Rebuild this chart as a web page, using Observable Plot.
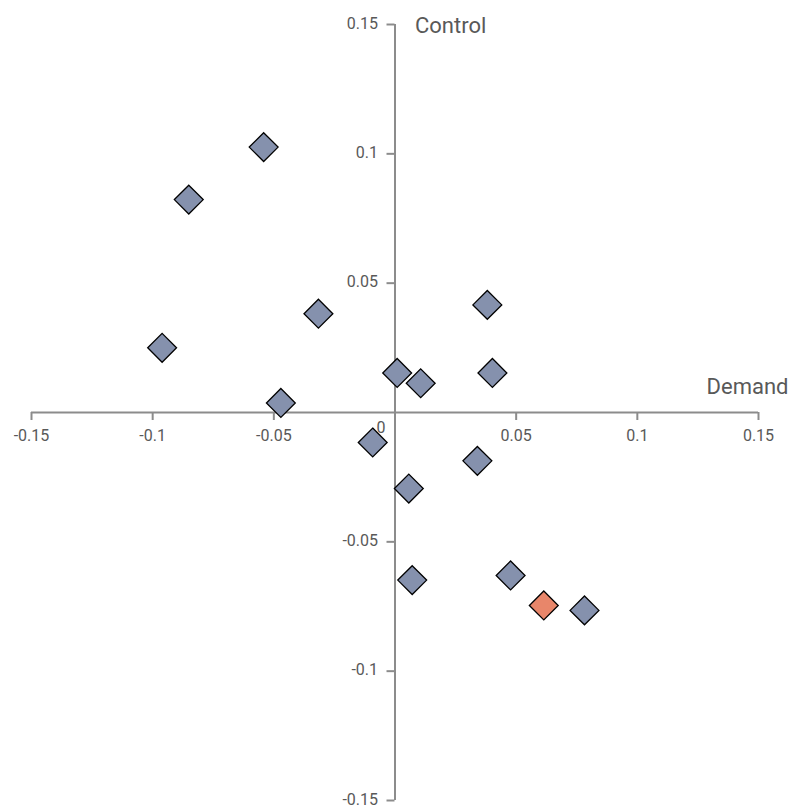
<!DOCTYPE html>
<html>
<head>
<meta charset="utf-8">
<script src="https://cdn.jsdelivr.net/npm/d3@7"></script>
<script src="https://cdn.jsdelivr.net/npm/@observablehq/plot@0.6"></script>
<style>
  html, body { margin: 0; padding: 0; background: #fff; }
  #chart svg { display: block; }
</style>
</head>
<body>
<div id="chart"></div>
<script>
// Data
const demand = [-0.0542, -0.0851, -0.0316, -0.0961, -0.0471, 0.0009, 0.0106, 0.0381, 0.0402, -0.0092, 0.0340, 0.0057, 0.0071, 0.0477, 0.0614, 0.0782];
const control = [0.1026, 0.0823, 0.0382, 0.0250, 0.0037, 0.0153, 0.0113, 0.0416, 0.0153, -0.0116, -0.0187, -0.0294, -0.0648, -0.0630, -0.0746, -0.0765];
const highlight = [false, false, false, false, false, false, false, false, false, false, false, false, false, false, true, false];

const xTicks = [-0.15, -0.1, -0.05, 0.05, 0.1, 0.15];
const xTickLabels = ["-0.15", "-0.1", "-0.05", "0.05", "0.1", "0.15"];
const yTicks = [0.15, 0.1, 0.05, -0.05, -0.1, -0.15];
const yTickLabels = ["0.15", "0.1", "0.05", "-0.05", "-0.1", "-0.15"];
const domainX = [-0.15, 0.15];
const domainY = [-0.15, 0.15];

const points = demand.map((d, i) => ({demand: d, control: control[i], hi: highlight[i]}));
const xTickData = xTicks.map((v, i) => ({v, label: xTickLabels[i]}));
const yTickData = yTicks.map((v, i) => ({v, label: yTickLabels[i]}));

const axisColor = "#8c8c8c";
const textColor = "#595959";
const font = "Roboto, 'Liberation Sans', Arial, sans-serif";

const chart = Plot.plot({
  width: 792,
  height: 805,
  marginLeft: 31,
  marginRight: 34,
  marginTop: 24,
  marginBottom: 5,
  style: {background: "#fff", fontFamily: font, overflow: "visible"},
  x: {domain: domainX, axis: null},
  y: {domain: domainY, axis: null},
  marks: [
    // axis lines
    Plot.ruleY([0], {x1: domainX[0], x2: domainX[1], stroke: axisColor, strokeWidth: 2}),
    Plot.ruleX([0], {y1: domainY[0], y2: domainY[1], stroke: axisColor, strokeWidth: 2}),
    // tick marks
    Plot.ruleX(xTickData, {x: "v", y1: 0, y2: 0, insetBottom: -8, stroke: axisColor, strokeWidth: 2}),
    Plot.ruleY(yTickData, {y: "v", x1: 0, x2: 0, insetLeft: -8, stroke: axisColor, strokeWidth: 2}),
    // tick labels
    Plot.text(xTickData, {x: "v", y: 0, dy: 23, text: "label", fill: textColor, fontSize: 16, lineAnchor: "middle"}),
    Plot.text(yTickData, {x: 0, y: "v", dx: -17, dy: -1, text: "label", fill: textColor, fontSize: 16, textAnchor: "end", lineAnchor: "middle"}),
    Plot.text(["0"], {x: 0, y: 0, dx: -14, dy: 15, text: d => d, fill: textColor, fontSize: 16, lineAnchor: "middle"}),
    // axis titles
    Plot.text(["Demand"], {x: domainX[1], y: 0, dx: 30, dy: -19, text: d => d, fill: textColor, fontSize: 22, textAnchor: "end", lineAnchor: "bottom"}),
    Plot.text(["Control"], {x: 0, y: domainY[1], dx: 20, dy: 8, text: d => d, fill: textColor, fontSize: 22, textAnchor: "start", lineAnchor: "bottom"}),
    // points
    Plot.dot(points, {
      x: "demand",
      y: "control",
      symbol: "diamond2",
      r: 13,
      fill: d => d.hi ? "#e8866a" : "#8591ad",
      stroke: "#000",
      strokeWidth: 1.3,
      fillOpacity: 1
    })
  ]
});

document.getElementById("chart").appendChild(chart);
</script>
</body>
</html>
